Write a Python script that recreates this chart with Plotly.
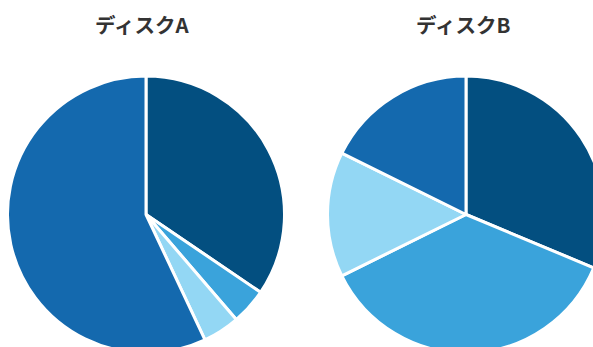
import plotly.graph_objects as go

categories = ["システム", "アプリ", "キャッシュ", "その他"]
disk_a = [34.5, 4.2, 4.3, 57.0]
disk_b = [31.3, 36.4, 14.6, 17.7]
titles = ["ディスクA", "ディスクB"]
colors = ["#034f80", "#3aa3db", "#93d7f4", "#1469ae"]

W, H = 620, 372
R = 138.5
centers = [(146, 214.5), (466, 214.5)]
title_x = [142, 463]

def dom(cx, cy):
    return dict(x=[(cx - R) / W, (cx + R) / W], y=[1 - (cy + R) / H, 1 - (cy - R) / H])

fig = go.Figure()
for vals, (cx, cy) in zip([disk_a, disk_b], centers):
    fig.add_trace(go.Pie(
        labels=categories, values=vals, sort=False, direction="clockwise", rotation=0,
        marker=dict(colors=colors, line=dict(color="white", width=3)),
        textinfo="none", hoverinfo="label+percent", domain=dom(cx, cy),
        showlegend=False,
    ))

for t, tx in zip(titles, title_x):
    fig.add_annotation(text=f"<b>{t}</b>", x=tx / W, y=1 - 24 / H, xref="paper", yref="paper",
                       showarrow=False, xanchor="center", yanchor="middle",
                       font=dict(family="Noto Sans CJK JP", size=20.5, color="#333333"))

fig.update_layout(width=W, height=H, margin=dict(l=0, r=0, t=0, b=0),
                  paper_bgcolor="white", plot_bgcolor="white")

fig.write_html("out.html", post_script="document.body.style.margin='0';document.body.style.overflow='hidden';document.documentElement.style.overflow='hidden';")
